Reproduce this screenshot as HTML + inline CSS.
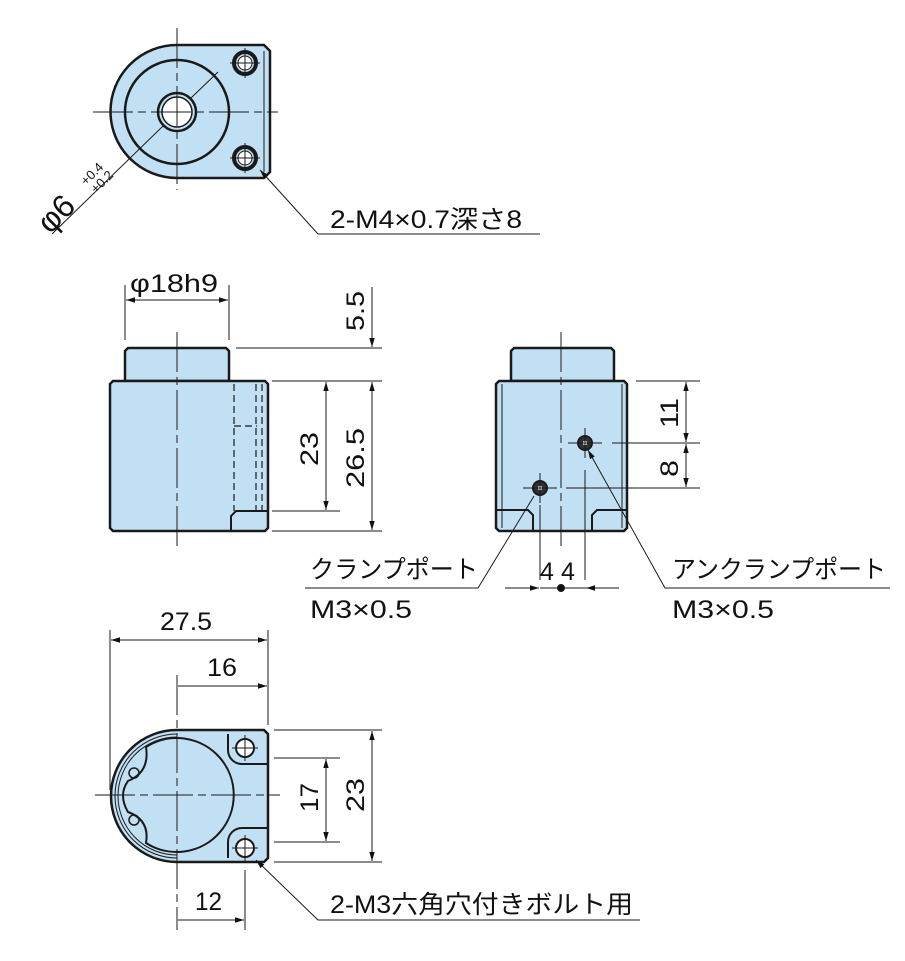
<!DOCTYPE html>
<html><head><meta charset="utf-8"><style>body{margin:0;background:#fff}svg{display:block}text{font-family:"Liberation Sans","Noto Sans CJK JP",sans-serif;fill:#111}</style></head><body>
<svg width="905" height="961" viewBox="0 0 905 961" xmlns="http://www.w3.org/2000/svg">
<defs><marker id="a" viewBox="0 0 10 10" refX="10" refY="5" markerWidth="9" markerHeight="9" orient="auto-start-reverse"><path d="M0,2 L10,5 L0,8z" fill="#111"/></marker></defs>
<g stroke="#1a1a1a" fill="none">
<!-- TOP VIEW -->
<path d="M177,45 H264 L270,51 V172 L264,178 H177 A66.5,66.5 0 0 1 177,45Z" fill="#c2e0f4" stroke-width="2.5"/>
<path d="M264,51 V172" stroke-width="1"/>
<circle cx="177" cy="112" r="52" stroke-width="2.5"/>
<circle cx="177" cy="112" r="19" stroke-width="2.5"/>
<circle cx="177" cy="112" r="15" fill="#fff" stroke-width="1.5"/>
<circle cx="245" cy="63" r="11" stroke-width="4"/><circle cx="245" cy="63" r="7" fill="#fff" stroke-width="1"/>
<circle cx="245" cy="158" r="11" stroke-width="4"/><circle cx="245" cy="158" r="7" fill="#fff" stroke-width="1"/>
<g stroke-width="1"><path d="M177,28 V190 M93,112 H278" stroke-dasharray="40,5,8,5"/>
<path d="M230,63 H260 M245,48 V78 M230,158 H260 M245,143 V173"/>
<path d="M52,234 L163,126 M191,98 L218,72" />
<path d="M260,170 L318,234 H540" marker-start="url(#a)"/></g>
<!-- FRONT VIEW -->
<path d="M128,348 H226 L229,351 V381 H125 V351Z" fill="#c2e0f4" stroke-width="2.5"/>
<path d="M113,381 H265 L268,384 V528 L265,531 H113 L110,528 V384Z" fill="#c2e0f4" stroke-width="2.5"/>
<path d="M231,531 V516 L236,511 H268" stroke-width="2"/>
<g stroke-width="1.2" stroke-dasharray="7,4"><path d="M234,384 V511 M256,384 V511 M262,384 V511 M234,426 H257"/></g>
<g stroke-width="1"><path d="M177,332 V548" stroke-dasharray="40,5,8,5"/>
<path d="M125,285 V340 M229,285 V340"/><path d="M126,300 H228" marker-start="url(#a)" marker-end="url(#a)"/>
<path d="M236,348 H382 M272,381 H382 M272,511 H340 M272,531 H382"/>
<path d="M372,287 V347" marker-end="url(#a)"/><path d="M372,382 V530" marker-start="url(#a)" marker-end="url(#a)"/>
<path d="M326,382 V510" marker-start="url(#a)" marker-end="url(#a)"/></g>
<!-- RIGHT VIEW -->
<path d="M514,348 H611 L614,351 V381 H511 V351Z" fill="#c2e0f4" stroke-width="2.5"/>
<path d="M499,381 H624 L627,384 V528 L624,531 H499 L496,528 V384Z" fill="#c2e0f4" stroke-width="2.5"/>
<path d="M502,384 V528 M622,384 V528" stroke-width="1"/>
<path d="M496,510 H528 L533,515 V531 M627,510 H597 L592,515 V531" stroke-width="2"/>
<circle cx="585" cy="443" r="7" fill="#333" stroke-width="2"/><circle cx="585" cy="443" r="2.5" fill="#fff" stroke-width=".5"/>
<circle cx="540" cy="488" r="7" fill="#333" stroke-width="2"/><circle cx="540" cy="488" r="2.5" fill="#fff" stroke-width=".5"/>
<g stroke-width="1"><path d="M561,332 V548" stroke-dasharray="40,5,8,5"/>
<path d="M568,443 H602 M585,428 V458 M523,488 H557 M540,473 V503"/>
<path d="M612,443 H700 M566,488 H700 M636,381 H700 M585,470 V580 M540,505 V580"/>
<path d="M686,382 V442" marker-start="url(#a)" marker-end="url(#a)"/><path d="M686,444 V487" marker-start="url(#a)" marker-end="url(#a)"/>
<path d="M505,588 H539" marker-end="url(#a)"/><path d="M619,588 H586" marker-end="url(#a)"/><path d="M540,588 H586"/>
<path d="M588,450 L665,588 H890" marker-start="url(#a)"/>
<path d="M534,496 L478,588 H305"/></g>
<circle cx="561" cy="588" r="3.5" fill="#111"/>
<!-- BOTTOM VIEW -->
<path d="M177,730 H264 L268,734 V858 L264,862 H177 A66,66 0 0 1 177,730Z" fill="#c2e0f4" stroke-width="2.5"/>
<path d="M177,734 A62,62 0 0 0 177,858 M177,737 A59,59 0 0 0 177,855" stroke-width="1"/>
<path d="M228,734 V750 A14,14 0 0 0 242,764 H268 M228,858 V842 A14,14 0 0 1 242,828 H268" stroke-width="2"/>
<path d="M146,747 A57,57 0 1 1 146,843 Q150,820 128,812 Q118,795 128,781 Q150,772 146,747Z" stroke-width="2"/>
<circle cx="134" cy="773" r="5" stroke-width="1.5"/><circle cx="134" cy="820" r="5" stroke-width="1.5"/>
<circle cx="245" cy="748" r="9" fill="#fff" stroke-width="2"/><circle cx="245" cy="848" r="9" fill="#fff" stroke-width="2"/>
<g stroke-width="1"><path d="M177,675 V930 M95,795 H280" stroke-dasharray="40,5,8,5"/>
<path d="M232,748 H258 M245,735 V761 M232,848 H258 M245,835 V861"/>
<path d="M110,630 V790 M268,630 V725"/><path d="M111,640 H267" marker-start="url(#a)" marker-end="url(#a)"/>
<path d="M178,686 H267" marker-end="url(#a)"/>
<path d="M274,730 H382 M274,862 H382 M274,758 H340 M274,842 H340"/>
<path d="M372,731 V861" marker-start="url(#a)" marker-end="url(#a)"/><path d="M326,759 V841" marker-start="url(#a)" marker-end="url(#a)"/>
<path d="M245,870 V930"/><path d="M178,920 H244" marker-end="url(#a)"/>
<path d="M256,860 L318,920 H640" marker-start="url(#a)"/></g>
</g>
<g font-size="25" lengthAdjust="spacingAndGlyphs">
<text transform="translate(50,235) rotate(-45)" font-size="32">φ6</text>
<text transform="translate(86,186) rotate(-45)" font-size="13">+0.4</text>
<text transform="translate(96,194) rotate(-45)" font-size="13">+0.2</text>
<text x="330" y="228" textLength="192" lengthAdjust="spacingAndGlyphs">2-M4×0.7深さ8</text>
<text x="130" y="292" textLength="88" lengthAdjust="spacingAndGlyphs">φ18h9</text>
<text transform="translate(364,331) rotate(-90)" textLength="40" lengthAdjust="spacingAndGlyphs">5.5</text>
<text transform="translate(318,466) rotate(-90)" textLength="34" lengthAdjust="spacingAndGlyphs">23</text>
<text transform="translate(364,488) rotate(-90)" textLength="60" lengthAdjust="spacingAndGlyphs">26.5</text>
<text transform="translate(678,428) rotate(-90)" textLength="30" lengthAdjust="spacingAndGlyphs">11</text>
<text transform="translate(678,477) rotate(-90)" textLength="17" lengthAdjust="spacingAndGlyphs">8</text>
<text x="540" y="580">4</text><text x="561" y="580">4</text>
<text x="310" y="578" textLength="168" lengthAdjust="spacingAndGlyphs">クランプポート</text>
<text x="310" y="618" textLength="102" lengthAdjust="spacingAndGlyphs">M3×0.5</text>
<text x="672" y="578" textLength="214" lengthAdjust="spacingAndGlyphs">アンクランプポート</text>
<text x="672" y="618" textLength="102" lengthAdjust="spacingAndGlyphs">M3×0.5</text>
<text x="160" y="630" textLength="52" lengthAdjust="spacingAndGlyphs">27.5</text>
<text x="207" y="676" textLength="30" lengthAdjust="spacingAndGlyphs">16</text>
<text transform="translate(318,812) rotate(-90)" textLength="29" lengthAdjust="spacingAndGlyphs">17</text>
<text transform="translate(364,812) rotate(-90)" textLength="34" lengthAdjust="spacingAndGlyphs">23</text>
<text x="195" y="910" textLength="27" lengthAdjust="spacingAndGlyphs">12</text>
<text x="330" y="913" textLength="303" lengthAdjust="spacingAndGlyphs">2-M3六角穴付きボルト用</text>
</g>
</svg>
</body></html>
